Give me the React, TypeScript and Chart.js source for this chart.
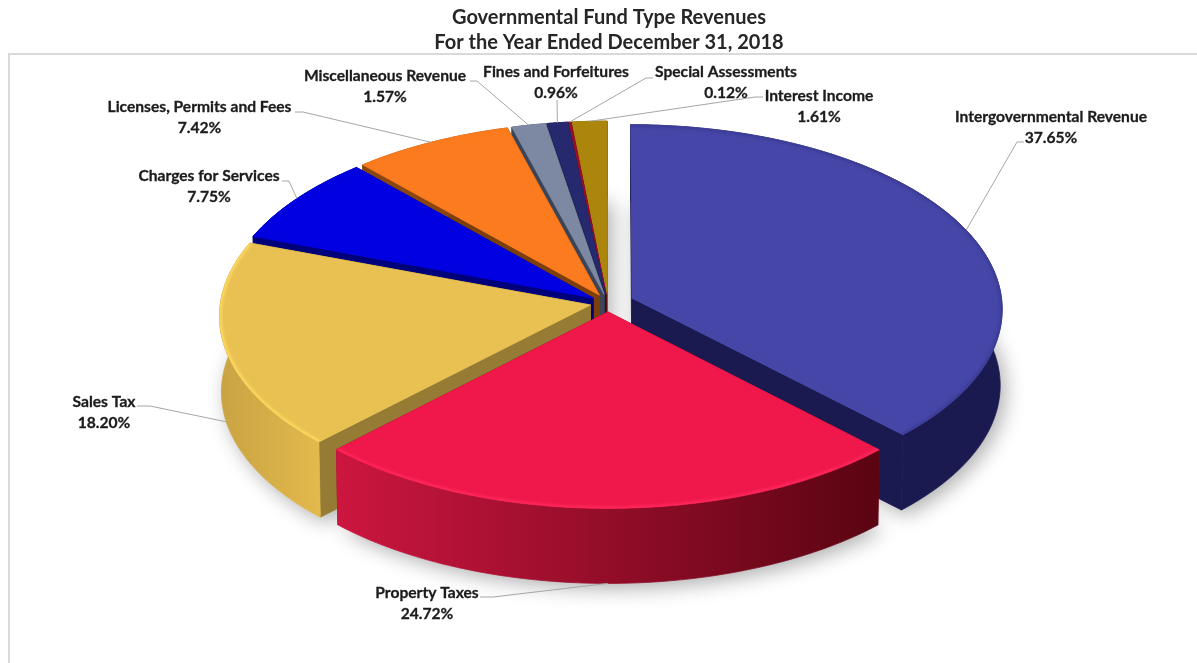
import { useEffect, useRef } from "react";
import { Chart, registerables } from "chart.js";

Chart.register(...registerables);

// Revenue sources, clockwise from twelve o'clock
const categories = [
  "Intergovernmental Revenue",
  "Property Taxes",
  "Sales Tax",
  "Charges for Services",
  "Licenses, Permits and Fees",
  "Miscellaneous Revenue",
  "Fines and Forfeitures",
  "Special Assessments",
  "Interest Income",
];
const shares = [37.65, 24.72, 18.2, 7.75, 7.42, 1.57, 0.96, 0.12, 1.61];
const explode = [26, 18, 18, 18, 18, 18, 18, 18, 18];

const topColors = ["#4646a8", "#f0174a", "#e9c152", "#0000e0", "#fb7b1e", "#7d89a3", "#27296f", "#9a0e2a", "#ac860c"];
const cutColors = ["#1a1a50", "#8c0a28", "#957b33", "#00007a", "#7c3f0b", "#3b4557", "#14143e", "#5a0818", "#6a5206"];
const wallFrom = ["#1a1a50", "#cc1640", "#c9a343", "#00007a", "#8a4610", "#3b4557", "#14143e", "#5a0818", "#6a5206"];
const wallTo = ["#1a1a50", "#5a0412", "#e3b94c", "#00007a", "#8a4610", "#3b4557", "#14143e", "#5a0818", "#6a5206"];
const rimColors = ["#3a3a94", "#ff2a5e", "#ffdc62", "#0000e0", "#fb7b1e", "#7d89a3", "#27296f", "#9a0e2a", "#ac860c"];

// Where each label sits: text centre, first line centre, and the leader's start and elbow
const labelLayout = [
  { x: 1051, y: 117, sx: 1024, sy: 142, ex: 1017, ey: 142 },
  { x: 427, y: 593, sx: 480, sy: 597, ex: 493, ey: 597 },
  { x: 104, y: 402, sx: 137, sy: 406, ex: 150, ey: 406 },
  { x: 209, y: 176, sx: 282, sy: 181, ex: 289, ey: 181 },
  { x: 199.5, y: 107, sx: 295, sy: 112, ex: 303, ey: 112 },
  { x: 385, y: 76, sx: 470, sy: 81, ex: 477, ey: 81 },
  { x: 556, y: 72, sx: 557, sy: 100, ex: 557, ey: 100 },
  { x: 726, y: 72, sx: 653, sy: 78, ex: 646, ey: 78 },
  { x: 819, y: 96, sx: 763, sy: 97, ex: 755, ey: 97 },
];

// Camera used to lay the pie on its side
const RIM_X = 370;
const RIM_Y = 184;
const PERSPECTIVE = 0.058;
const DEPTH = 76;
const BASE_SCALE = 0.995;
const SHIFT_X = -1;
const FONT = "Lato";

type Pt = { x: number; y: number };

function projector(cx: number, cy: number) {
  return (u: number, v: number, base: boolean): Pt => {
    const s = 1 / (1 - PERSPECTIVE * v);
    const k = base ? BASE_SCALE : 1;
    return {
      x: cx + SHIFT_X + RIM_X * u * s * k,
      y: cy + RIM_Y * v * s * k + (base ? DEPTH : 0),
    };
  };
}

function tracePoly(ctx: CanvasRenderingContext2D, pts: Pt[]) {
  ctx.beginPath();
  pts.forEach((p, i) => (i ? ctx.lineTo(p.x, p.y) : ctx.moveTo(p.x, p.y)));
  ctx.closePath();
}

// Fills with a hairline of the same paint so neighbouring faces leave no seam
function fillPoly(ctx: CanvasRenderingContext2D, pts: Pt[], paint: any) {
  tracePoly(ctx, pts);
  ctx.fillStyle = paint;
  ctx.strokeStyle = paint;
  ctx.lineWidth = 0.8;
  ctx.fill();
  ctx.stroke();
}

function sector(el: any, i: number) {
  const { startAngle, endAngle } = el;
  const mid = (startAngle + endAngle) / 2;
  const e = (el.options.offset || 0) / RIM_X;
  const ou = Math.cos(mid) * e;
  const ov = Math.sin(mid) * e;
  const steps = Math.max(2, Math.ceil((endAngle - startAngle) / 0.02));
  const rim: [number, number][] = [];
  for (let k = 0; k <= steps; k++) {
    const a = startAngle + ((endAngle - startAngle) * k) / steps;
    rim.push([ou + Math.cos(a), ov + Math.sin(a)]);
  }
  return { i, mid, ou, ov, rim };
}

// Draws the slices as solid wedges, back to front, from the pie's arc elements
const solidPie = {
  id: "solidPie",
  beforeDraw(chart: any) {
    const { ctx, width, height } = chart;
    ctx.save();
    ctx.fillStyle = "#ffffff";
    ctx.fillRect(0, 0, width, height);
    ctx.strokeStyle = "#d9d9d9";
    ctx.lineWidth = 2;
    ctx.beginPath();
    ctx.moveTo(9, height);
    ctx.lineTo(9, 54);
    ctx.lineTo(width, 54);
    ctx.stroke();
    ctx.restore();
  },
  beforeDatasetsDraw(chart: any) {
    const { ctx } = chart;
    const arcs = chart.getDatasetMeta(0).data;
    const P = projector(arcs[0].x, arcs[0].y);
    const parts = arcs.map(sector);

    // Soft shadow thrown by the base of the wedges
    ctx.save();
    ctx.shadowColor = "rgba(0,0,0,0.32)";
    ctx.shadowBlur = 20;
    ctx.shadowOffsetX = 5;
    ctx.shadowOffsetY = 5;
    ctx.fillStyle = "#ffffff";
    parts.forEach((p: any) => {
      tracePoly(ctx, [P(p.ou, p.ov, true), ...p.rim.map((r: number[]) => P(r[0], r[1], true))]);
      ctx.fill();
    });
    ctx.restore();

    const order = [...parts].sort((a: any, b: any) => Math.sin(a.mid) - Math.sin(b.mid));
    order.forEach((p: any) => {
      const topRim: Pt[] = p.rim.map((r: number[]) => P(r[0], r[1], false));
      const baseRim: Pt[] = p.rim.map((r: number[]) => P(r[0], r[1], true));
      const apexTop = P(p.ou, p.ov, false);
      const apexBase = P(p.ou, p.ov, true);
      const last = topRim.length - 1;
      const topFace = [apexTop, ...topRim];
      const wall = [...topRim, ...[...baseRim].reverse()];

      ctx.save();
      fillPoly(ctx, [apexTop, topRim[0], baseRim[0], apexBase], cutColors[p.i]);
      fillPoly(ctx, [apexTop, topRim[last], baseRim[last], apexBase], cutColors[p.i]);

      const xs = topRim.map((q) => q.x);
      const grad = ctx.createLinearGradient(Math.min(...xs), 0, Math.max(...xs), 0);
      grad.addColorStop(0, wallFrom[p.i]);
      grad.addColorStop(1, wallTo[p.i]);
      fillPoly(ctx, wall, grad);
      fillPoly(ctx, topFace, topColors[p.i]);

      // Rounded bevel along the rim, kept inside the top face
      tracePoly(ctx, topFace);
      ctx.clip();
      ctx.strokeStyle = rimColors[p.i];
      ctx.lineWidth = 4;
      ctx.filter = "blur(1.5px)";
      ctx.beginPath();
      topRim.forEach((q, k) => (k ? ctx.lineTo(q.x, q.y) : ctx.moveTo(q.x, q.y)));
      ctx.stroke();
      ctx.restore();
    });
    return false;
  },
  afterDraw(chart: any) {
    const { ctx } = chart;
    const arcs = chart.getDatasetMeta(0).data;
    const P = projector(arcs[0].x, arcs[0].y);
    ctx.save();
    ctx.textAlign = "center";
    ctx.textBaseline = "middle";
    arcs.forEach((el: any, i: number) => {
      const p = sector(el, i);
      const rimU = p.ou + Math.cos(p.mid);
      const rimV = p.ov + Math.sin(p.mid);
      const end = P(rimU, rimV, Math.sin(p.mid) > 0);
      const l = labelLayout[i];
      ctx.strokeStyle = "#a6a6a6";
      ctx.lineWidth = 1;
      ctx.beginPath();
      ctx.moveTo(l.sx, l.sy);
      ctx.lineTo(l.ex, l.ey);
      ctx.lineTo(end.x, end.y);
      ctx.stroke();

      ctx.fillStyle = "#1c1c1c";
      ctx.strokeStyle = "#1c1c1c";
      ctx.lineWidth = 0.3;
      ctx.font = `bold 15.6px ${FONT}`;
      const value = `${shares[i].toFixed(2)}%`;
      ctx.fillText(categories[i], l.x, l.y);
      ctx.strokeText(categories[i], l.x, l.y);
      ctx.fillText(value, l.x, l.y + 20.5);
      ctx.strokeText(value, l.x, l.y + 20.5);
    });
    ctx.restore();
  },
};

export default function App() {
  const ref = useRef<HTMLCanvasElement>(null);
  useEffect(() => {
    const chart = new Chart(ref.current!, {
      type: "pie",
      data: {
        labels: categories,
        datasets: [{ data: shares, offset: explode, backgroundColor: topColors, borderWidth: 0 }],
      },
      options: {
        responsive: false,
        animation: false,
        layout: { padding: { left: 21, bottom: 112 } },
        plugins: {
          legend: { display: false },
          tooltip: { enabled: false },
          title: {
            display: true,
            text: ["Governmental Fund Type Revenues", "For the Year Ended December 31, 2018"],
            color: "#262626",
            font: { family: FONT, size: 20, weight: "bold", lineHeight: 1.25 },
            padding: { top: 5, bottom: 0 },
          },
        },
      },
      plugins: [solidPie],
    } as any);
    return () => chart.destroy();
  }, []);
  return (
    <div style={{ position: "fixed", left: 0, top: 0, width: 1197, height: 663 }}>
      <canvas ref={ref} width={1197} height={663} style={{ display: "block" }} />
    </div>
  );
}
